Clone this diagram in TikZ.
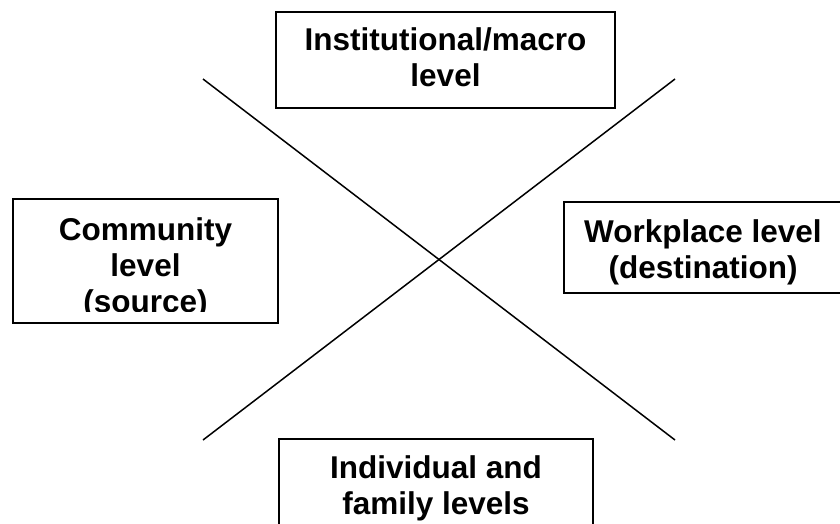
\documentclass[tikz,border=0pt]{standalone}
\usepackage{fontspec}
\setmainfont{Liberation Sans}
\begin{document}
\begin{tikzpicture}[x=1pt,y=-1pt,
  levelbox/.style={draw, line width=1.6pt, inner sep=0pt},
  leveltext/.style={font=\fontsize{31.5}{36}\selectfont\bfseries, align=center, inner sep=0pt}]
  \useasboundingbox (0,0) rectangle (840,523);
  \clip (0,0) rectangle (840,523);

  % the cross
  \coordinate (tl) at (203,79);
  \coordinate (br) at (675,440);
  \coordinate (bl) at (203,440);
  \coordinate (tr) at (675,79);
  \draw[line width=1.5pt] (tl) -- (br);
  \draw[line width=1.5pt] (bl) -- (tr);

  % institutional box
  \node[levelbox, minimum width=339, minimum height=96] (inst) at (445.5,60) {};
  \node[leveltext] (insttext) at (445.5,57.5) {Institutional/macro\\level};

  % community box, last line cut off
  \node[levelbox, minimum width=265, minimum height=124] (comm) at (145.5,261) {};
  \begin{scope}
    \clip (13,199) rectangle (278,311);
    \node[leveltext] (commtext) at (145.5,268) {Community\\level\\(source)};
  \end{scope}

  % workplace box
  \node[levelbox, minimum width=278, minimum height=91] (work) at (703,247.5) {};
  \node[leveltext] (worktext) at (703,252) {Workplace level\\(destination)};

  % individual box
  \node[levelbox, minimum width=314, minimum height=120] (indiv) at (436,499) {};
  \node[leveltext] (indivtext) at (436,488) {Individual and\\family levels};

\end{tikzpicture}
\end{document}
